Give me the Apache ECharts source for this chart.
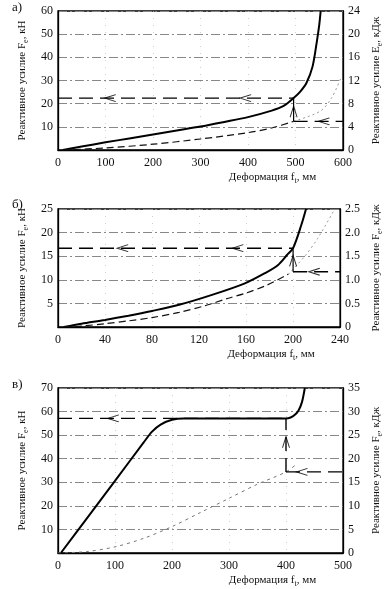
<!DOCTYPE html>
<html><head><meta charset="utf-8">
<script src="https://cdn.jsdelivr.net/npm/echarts@6/dist/echarts.min.js"></script>
<style>html,body{margin:0;padding:0;background:#fff}#c{width:392px;height:589px}</style>
</head><body><div id="c"></div>
<script>
// ---- Chart а) ----
const aForceX = [10, 50, 100, 150, 200, 250, 300, 350, 400, 450, 475, 496, 510, 523, 536, 545, 550, 553];
const aForceY = [0, 1.5, 3.3, 5.0, 6.7, 8.4, 10.1, 12.1, 14.2, 17.0, 19.0, 22.4, 25.2, 28.9, 36.1, 46.9, 54, 60];
const aEnergyX = [10, 100, 200, 300, 400, 450, 496];
const aEnergyY = [0, 0.35, 1.0, 1.9, 3.0, 3.8, 4.95];
const aEnergyTailX = [496, 552, 576, 597];
const aEnergyTailY = [4.95, 6.7, 9.0, 12.7];
const aOpX = 496, aOpForce = 22.4, aOpEnergy = 4.95;
const aArrowsH = [110, 395];
const aArrowUp = 16.5;
const aArrowLow = 560;
// ---- Chart б) ----
const bForceX = [5, 20, 40, 60, 80, 103, 131, 159, 176, 187, 195, 200, 207, 211];
const bForceY = [0, 0.7, 1.5, 2.4, 3.4, 4.7, 6.8, 9.25, 11.4, 13.1, 15.3, 16.7, 21.6, 25];
const bEnergyX = [5, 20, 40, 60, 80, 103, 125, 145, 160, 178, 196];
const bEnergyY = [0, 0.02, 0.07, 0.13, 0.2, 0.31, 0.45, 0.61, 0.72, 0.89, 1.12];
const bEnergyTailX = [196, 210, 221, 235];
const bEnergyTailY = [1.12, 1.5, 1.88, 2.48];
const bOpX = 200, bOpForce = 16.7, bOpEnergy = 1.17;
const bArrowsH = [55, 153];
const bArrowUp = 14;
const bArrowLow = 218;
// ---- Chart в) ----
const cForceX = [5, 50, 100, 150, 165, 180, 200, 220, 260, 300, 350, 400, 408, 415, 422, 428, 433];
const cForceY = [0, 14.5, 30.6, 46.8, 51.5, 54.5, 56.5, 57.1, 57.1, 57.1, 57.1, 57.1, 57.5, 58.5, 60.5, 64, 70];
const cEnergyX = [0, 50, 100, 150, 200, 250, 300, 350, 400, 420];
const cEnergyY = [0, 0.3, 1.3, 3.1, 5.6, 8.6, 11.6, 14.6, 17.2, 19];
const cOpX = 400, cOpForce = 57.1, cOpEnergy = 17.2;
const cArrowsH = [97];
const cArrowUp = 47;
const cArrowLow = 428;
// ---- Axis ticks ----
const xTicks = [[0, 600, 100], [0, 240, 40], [0, 500, 100]];
const yLeftTicks = [[0, 60, 10], [0, 25, 5], [0, 70, 10]];
const yRightTicks = [[0, 24, 4], [0, 2.5, 0.5], [0, 35, 5]];
const panelLetters = ['а)', 'б)', 'в)'];
const rightNames = ['E', 'F', 'F'];

const FONT = 'Liberation Serif';
const zip = (xs, ys) => xs.map((x, i) => [x, ys[i]]);
const grids = [
  {left: 58, top: 11, width: 285, height: 139},
  {left: 58, top: 209, width: 285, height: 118},
  {left: 58, top: 388, width: 285, height: 165}
].map(g => Object.assign(g, {show: true, borderColor: '#000', borderWidth: 1.3, backgroundColor: 'transparent'}));

const richName = {
  a: {fontSize: 11, fontFamily: FONT, color: '#111', lineHeight: 13, verticalAlign: 'top'},
  s: {fontSize: 8, fontFamily: FONT, color: '#111', lineHeight: 11, verticalAlign: 'bottom'}
};

const xAxis = xTicks.map((t, i) => ({
  type: 'value', gridIndex: i, min: t[0], max: t[1], interval: t[2],
  axisLine: {show: true, lineStyle: {color: '#000', width: 1.3}},
  axisTick: {show: false},
  axisLabel: {fontFamily: FONT, fontSize: 12, color: '#111', margin: 7},
  splitLine: {show: true, lineStyle: {color: '#bbb', width: 1, type: [1, 6], opacity: 0.7}},
  name: '{a|Деформация f}{s|t}{a|, мм}', nameLocation: 'middle', nameGap: 22,
  nameTextStyle: {rich: richName, padding: [0, 0, 0, 144]}
}));

const yAxis = [];
yLeftTicks.forEach((t, i) => {
  yAxis.push({
    type: 'value', gridIndex: i, position: 'left', min: t[0], max: t[1], interval: t[2],
    axisLine: {show: true, lineStyle: {color: '#000', width: 1.3}},
    axisTick: {show: false},
    axisLabel: {fontFamily: FONT, fontSize: 12, color: '#111', margin: 5, formatter: v => v === 0 ? '' : String(v)},
    splitLine: {show: true, lineStyle: {color: '#888', width: 1, type: [9, 3, 2, 3]}},
    name: '{a|Реактивное усилие F}{s|e}{a|, кН}', nameLocation: 'middle', nameGap: 24, nameRotate: 90,
    nameTextStyle: {rich: richName}
  });
  const r = yRightTicks[i];
  yAxis.push({
    type: 'value', gridIndex: i, position: 'right', min: r[0], max: r[1], interval: r[2],
    axisLine: {show: true, lineStyle: {color: '#000', width: 1.3}},
    axisTick: {show: false},
    axisLabel: {fontFamily: FONT, fontSize: 12, color: '#111', margin: 5,
      formatter: v => (i === 1 && v !== 0) ? v.toFixed(1) : String(v)},
    splitLine: {show: false},
    name: '{a|Реактивное усилие ' + rightNames[i] + '}{s|e}{a|, кДж}', nameLocation: 'middle', nameGap: 26, nameRotate: 90,
    nameTextStyle: {rich: richName}
  });
});

const series = [];
function line(gi, right, data, style, smooth) {
  series.push({type: 'line', xAxisIndex: gi, yAxisIndex: gi * 2 + (right ? 1 : 0), data: data,
    showSymbol: false, symbol: 'none', smooth: smooth === undefined ? 0.3 : smooth,
    lineStyle: style, silent: true, z: 3});
}
const ARROW = 'path://M12,0 L0,5 L12,10';
function heads(gi, pts, rot) {
  series.push({type: 'scatter', xAxisIndex: gi, yAxisIndex: gi * 2, data: pts, symbol: ARROW,
    symbolSize: [11, 7], symbolRotate: rot, silent: true, z: 5,
    itemStyle: {color: 'transparent', borderColor: '#000', borderWidth: 1.2}});
}
const solid = {color: '#000', width: 2};
const dashed = {color: '#111', width: 1.2, type: [7, 4]};
const dotted = {color: '#999', width: 1, type: [2, 3]};
const arrowLine = {color: '#000', width: 1.4, type: [14, 7]};
const thin = {color: '#000', width: 1.2};

const panels = [
  {fx: aForceX, fy: aForceY, ex: aEnergyX, ey: aEnergyY, tx: aEnergyTailX, ty: aEnergyTailY,
   opX: aOpX, opF: aOpForce, opE: aOpEnergy, ah: aArrowsH, au: aArrowUp, al: aArrowLow},
  {fx: bForceX, fy: bForceY, ex: bEnergyX, ey: bEnergyY, tx: bEnergyTailX, ty: bEnergyTailY,
   opX: bOpX, opF: bOpForce, opE: bOpEnergy, ah: bArrowsH, au: bArrowUp, al: bArrowLow},
  {fx: cForceX, fy: cForceY, ex: cEnergyX, ey: cEnergyY, tx: null, ty: null,
   opX: cOpX, opF: cOpForce, opE: cOpEnergy, ah: cArrowsH, au: cArrowUp, al: cArrowLow}
];
panels.forEach((p, i) => {
  const ratio = yLeftTicks[i][1] / yRightTicks[i][1];
  const xmax = xTicks[i][1];
  line(i, false, zip(p.fx, p.fy), solid, 0.3);
  if (i === 2) {
    line(i, true, zip(p.ex, p.ey), {color: '#777', width: 1, type: [3, 4]});
  } else {
    line(i, true, zip(p.ex, p.ey), dashed);
    line(i, true, zip(p.tx, p.ty), dotted);
  }
  // operating-point construction lines
  line(i, false, [[0, p.opF], [p.opX, p.opF]], arrowLine, 0);
  line(i, false, [[p.opX, p.opE * ratio], [p.opX, p.opF]], i === 2 ? arrowLine : thin, 0);
  line(i, false, [[p.opX, p.opE * ratio], [xmax, p.opE * ratio]], arrowLine, 0);
  heads(i, p.ah.map(x => [x, p.opF]), 0);
  heads(i, [[p.opX, p.au]], -90);
  heads(i, [[p.al, p.opE * ratio]], 0);
});

const graphic = panelLetters.map((t, i) => ({
  type: 'text', left: 12, top: [1, 198, 378][i],
  style: {text: t, font: '13px "' + FONT + '"', fill: '#111'}
}));

const chart = echarts.init(document.getElementById('c'), null, {renderer: 'canvas'});
chart.setOption({animation: false, backgroundColor: '#fff', grid: grids, xAxis: xAxis, yAxis: yAxis, series: series, graphic: graphic});
</script></body></html>
